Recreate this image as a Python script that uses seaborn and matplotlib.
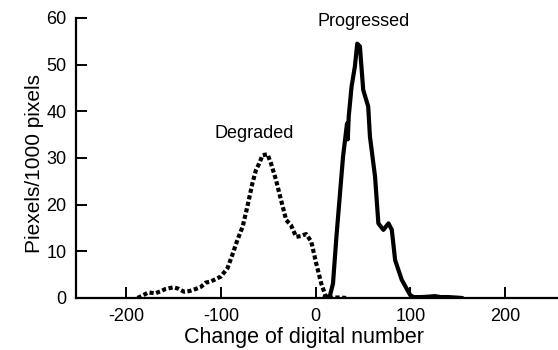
import numpy as np
import pandas as pd
import matplotlib
matplotlib.use('Agg')
import matplotlib.pyplot as plt
import seaborn as sns

# Degraded histogram (dotted curve)
degraded_x = [-188, -182, -176.6, -169.5, -164, -158.8, -150, -145, -139, -133, -127, -121,
              -116, -111, -107, -100, -93, -88, -82.6, -77, -72, -66.7, -63, -59.6, -56,
              -50.7, -47, -41.8, -36.5, -31, -26, -20.5, -15.2, -10, -4.6, 0.7, 6, 11.4,
              18, 25, 33]
degraded_y = [0.0, 0.6, 1.2, 1.0, 1.4, 1.9, 2.3, 2.0, 1.35, 1.5, 1.9, 2.4,
              3.3, 3.5, 3.9, 4.6, 6.4, 9.2, 12.4, 15.3, 19.6, 24.6, 27.4, 28.8, 30.6,
              30.8, 28.8, 25.3, 21.0, 16.7, 15.6, 13.1, 13.3, 13.7, 12.1, 7.4, 3.1, 0.0,
              0.1, 0.1, 0.0]

# Progressed histogram (solid curve)
progressed_x = [9.6, 14.9, 18.4, 22, 25.5, 29, 33.2, 34.0, 35.0, 38, 41.5, 44, 46.8, 50.3,
                55.6, 57.4, 62.8, 66.3, 71.6, 77, 80.5, 84, 91, 100, 103.5, 112, 120,
                126, 132, 140, 148, 155]
progressed_y = [0.3, 0.3, 3.1, 13.1, 21.7, 30.3, 37.4, 34.0, 38.9, 45.3, 49.6, 54.5, 53.9,
                44.6, 41.0, 34.6, 26.0, 16.0, 14.6, 16.0, 14.6, 8.1, 3.9, 0.6, 0.2, 0.2,
                0.3, 0.4, 0.2, 0.2, 0.1, 0.0]

x_ticks = [-200, -100, 0, 100, 200]
y_ticks = [0, 10, 20, 30, 40, 50, 60]

sns.set_theme(style='ticks')
plt.rcParams['font.family'] = ['Liberation Sans', 'DejaVu Sans']
plt.rcParams['axes.unicode_minus'] = False
plt.rcParams['text.color'] = 'black'
plt.rcParams['axes.labelcolor'] = 'black'

deg = pd.DataFrame({'x': degraded_x, 'y': degraded_y})
pro = pd.DataFrame({'x': progressed_x, 'y': progressed_y})

fig = plt.figure(figsize=(5.58, 3.5), dpi=100)
ax = fig.add_axes([76 / 558, 52 / 350, 482 / 558, 280 / 350])

sns.lineplot(data=deg, x='x', y='y', ax=ax, color='black', linewidth=3,
             linestyle=(0, (1, 0.6)))
sns.lineplot(data=pro, x='x', y='y', ax=ax, color='black', linewidth=3)

ax.set_xlim(-253, 256)
ax.set_ylim(0, 60)
ax.set_xticks(x_ticks)
ax.set_yticks(y_ticks)
ax.tick_params(direction='in', length=8, width=1.4, labelsize=13, colors='black',
               labelcolor='black', pad=7)
for s in ['top', 'right']:
    ax.spines[s].set_visible(False)
for s in ['left', 'bottom']:
    ax.spines[s].set_linewidth(1.6)
    ax.spines[s].set_color('black')

ax.set_xlabel('Change of digital number', fontsize=15.5, color='black')
ax.set_ylabel('Piexels/1000 pixels', fontsize=15, color='black')
ax.xaxis.set_label_coords(0.473, -0.105)
ax.yaxis.set_label_coords(-0.066, 0.48)

ax.text(-65, 33.5, 'Degraded', ha='center', va='bottom', fontsize=13, color='black')
ax.text(51, 57.5, 'Progressed', ha='center', va='bottom', fontsize=13, color='black')

fig.savefig('out.png', dpi=100)
